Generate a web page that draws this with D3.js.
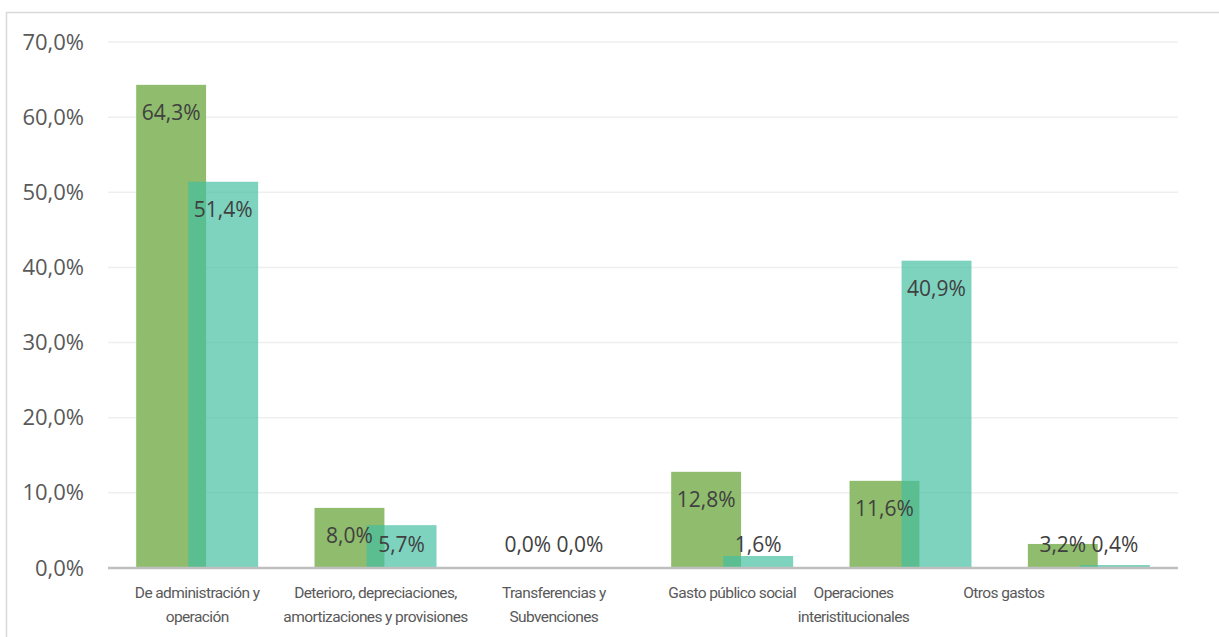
<!DOCTYPE html>
<html><head><meta charset="utf-8">
<script src="https://cdn.jsdelivr.net/npm/d3@7/dist/d3.min.js"></script>
<style>
html,body{margin:0;padding:0;background:#fff;}
svg{display:block;}
</style></head>
<body>
<svg id="chart" width="1219" height="637"></svg>
<script>
const categories = [
  ["De administración y","operación"],
  ["Deterioro, depreciaciones,","amortizaciones y provisiones"],
  ["Transferencias y","Subvenciones"],
  ["Gasto público social"],
  ["Operaciones","interistitucionales"],
  ["Otros gastos"]
];
const series1 = [64.3, 8.0, 0.0, 12.8, 11.6, 3.2];
const series2 = [51.4, 5.7, 0.0, 1.6, 40.9, 0.4];
const yTicks = [0,10,20,30,40,50,60,70];

const svg = d3.select("#chart");
const m = {left:108, right:1178, top:42, bottom:568};

// outer border
svg.append("rect").attr("x",6.5).attr("y",12.5).attr("width",1230).attr("height",640)
  .attr("fill","none").attr("stroke","#d9d9d9").attr("stroke-width",1.5);

const x = d3.scaleBand().domain(d3.range(categories.length)).range([m.left,m.right]).padding(0);
const y = d3.scaleLinear().domain([0,70]).range([m.bottom,m.top]);

// gridlines
svg.append("g").selectAll("line").data(yTicks.filter(t=>t>0)).join("line")
  .attr("x1",m.left).attr("x2",m.right)
  .attr("y1",d=>y(d)).attr("y2",d=>y(d))
  .attr("stroke","#efefef").attr("stroke-width",1.5);

// y axis labels
const fmt = v => d3.format(".1f")(v).replace(".",",")+"%";
const yAxis = d3.axisLeft(y).tickValues(yTicks).tickSize(0).tickPadding(0).tickFormat(fmt);
const ga = svg.append("g").attr("transform",`translate(84,0)`).call(yAxis);
ga.select(".domain").remove();
ga.selectAll("text").attr("font-family","'Open Sans', sans-serif").attr("font-size",22)
  .attr("fill","#595959");

const bw = x.bandwidth()*0.392;
const off = x.bandwidth()*0.146;

// green bars
svg.append("g").selectAll("rect").data(series1).join("rect")
  .attr("x",(d,i)=>x(i)+x.bandwidth()/2-off-bw/2)
  .attr("width",bw)
  .attr("y",d=>y(d)).attr("height",d=>y(0)-y(d))
  .attr("fill","#8fbd6d");
// teal bars
svg.append("g").selectAll("rect").data(series2).join("rect")
  .attr("x",(d,i)=>x(i)+x.bandwidth()/2+off-bw/2)
  .attr("width",bw)
  .attr("y",d=>y(d)).attr("height",d=>y(0)-y(d))
  .attr("fill","#41bea0").attr("fill-opacity",0.68);

// axis line
svg.append("line").attr("x1",m.left).attr("x2",m.right).attr("y1",y(0)).attr("y2",y(0))
  .attr("stroke","#bfbfbf").attr("stroke-width",2.5);

// data labels
function labY(v){ return Math.min(y(v)+28, 544); }
const lab = svg.append("g").attr("font-family","'Open Sans', sans-serif").attr("font-size",21)
  .attr("fill","#404040").attr("text-anchor","middle");
lab.selectAll("text.s1").data(series1).join("text").attr("class","s1")
  .attr("x",(d,i)=>x(i)+x.bandwidth()/2-off)
  .attr("y",d=>labY(d)).attr("dy","0.36em").text(fmt);
lab.selectAll("text.s2").data(series2).join("text").attr("class","s2")
  .attr("x",(d,i)=>x(i)+x.bandwidth()/2+off)
  .attr("y",d=>labY(d)).attr("dy","0.36em").text(fmt);

// category labels
const catDx = [0,0,0,0,-57,-85];
const cg = svg.append("g").attr("font-family","Roboto, sans-serif")
  .attr("font-size",15.5).attr("letter-spacing","-0.6px").attr("fill","#595959").attr("text-anchor","middle");
categories.forEach((lines,i)=>{
  const cx = x(i)+x.bandwidth()/2+catDx[i];
  const t = cg.append("text").attr("x",cx).attr("y",598);
  lines.forEach((ln,j)=>{
    t.append("tspan").attr("x",cx).attr("dy",j===0?0:24).text(ln);
  });
});
</script>
</body></html>
